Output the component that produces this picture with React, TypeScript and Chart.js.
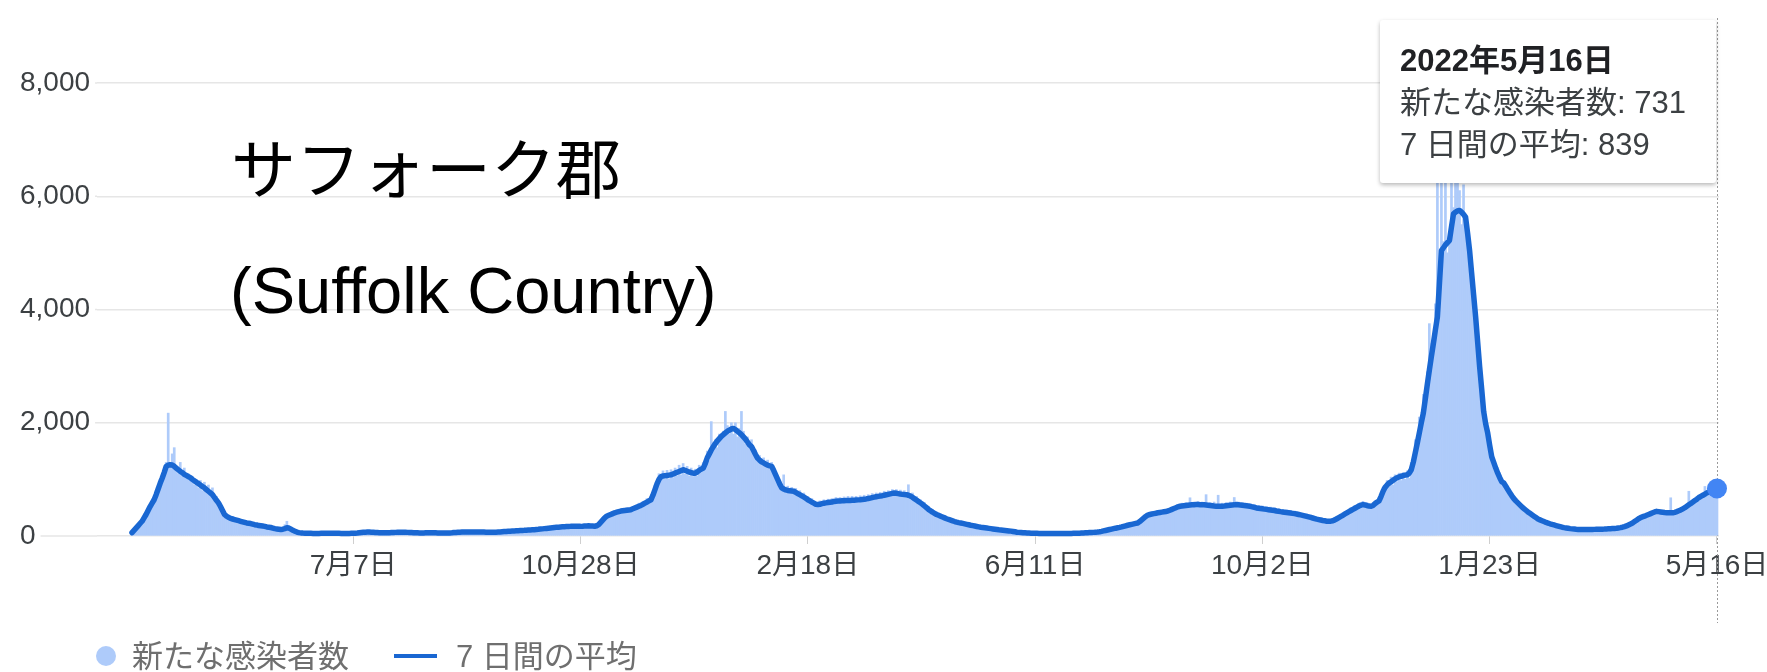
import React, { useEffect, useRef } from 'react';
import { Chart, registerables } from 'chart.js';

Chart.register(...registerables);

// ---------- data (day index 0 = 2020-03-19, last = 2022-05-16) ----------
const dailyCases: number[] = [
  40, 90, 150, 170, 240, 280, 300, 420, 430, 560,
  600, 620, 800, 790, 1000, 1010, 1150, 1300, 2170, 1250,
  1450, 1560, 1180, 1100, 1300, 1050, 1200, 1020, 1100, 1000,
  1050, 900, 1000, 850, 980, 800, 950, 780, 900, 720,
  850, 640, 700, 520, 560, 400, 420, 330, 360, 280,
  340, 260, 300, 240, 290, 230, 260, 200, 250, 200,
  230, 180, 210, 170, 200, 160, 190, 140, 170, 140,
  150, 110, 140, 100, 130, 110, 200, 260, 130, 100,
  90, 70, 75, 50, 60, 45, 55, 40, 55, 40,
  50, 38, 50, 40, 55, 42, 52, 45, 58, 42,
  55, 42, 52, 40, 50, 38, 50, 40, 52, 42,
  52, 45, 60, 50, 70, 55, 75, 65, 78, 60,
  72, 55, 66, 50, 62, 50, 60, 52, 64, 52,
  70, 56, 72, 58, 74, 58, 72, 56, 68, 52,
  64, 50, 62, 48, 60, 50, 62, 50, 64, 52,
  62, 50, 60, 48, 58, 46, 58, 46, 62, 50,
  68, 54, 74, 60, 78, 62, 80, 62, 78, 62,
  78, 62, 80, 64, 78, 62, 76, 58, 74, 58,
  76, 60, 78, 64, 84, 70, 90, 74, 96, 78,
  100, 82, 104, 86, 108, 90, 114, 96, 118, 100,
  124, 104, 130, 110, 140, 116, 148, 126, 156, 132,
  166, 138, 172, 144, 178, 150, 184, 150, 188, 152,
  190, 150, 188, 150, 192, 156, 196, 160, 194, 158,
  190, 170, 230, 260, 320, 300, 390, 340, 420, 370,
  450, 390, 470, 410, 490, 420, 500, 430, 510, 450,
  540, 480, 580, 500, 610, 540, 660, 570, 700, 680,
  900, 860, 1100, 980, 1150, 1000, 1160, 1010, 1170, 1030,
  1200, 1060, 1250, 1080, 1280, 1090, 1230, 1060, 1200, 1050,
  1180, 1060, 1250, 1120, 1300, 1220, 1500, 1330, 2020, 1650,
  1700, 1560, 1800, 1750, 1850, 2200, 1950, 1800, 2000, 1800,
  2000, 1750, 1900, 2200, 1850, 1620, 1750, 1550, 1700, 1450,
  1520, 1320, 1420, 1250, 1380, 1220, 1340, 1180, 1300, 1100,
  1080, 950, 980, 800, 1080, 780, 880, 760, 860, 740,
  840, 720, 800, 680, 760, 640, 700, 590, 660, 560,
  600, 520, 620, 540, 640, 550, 650, 560, 660, 580,
  680, 580, 680, 590, 690, 580, 700, 590, 700, 600,
  700, 600, 710, 610, 720, 620, 730, 640, 750, 650,
  760, 660, 770, 680, 790, 690, 800, 700, 820, 720,
  820, 710, 810, 700, 800, 700, 905, 680, 760, 620,
  700, 580, 640, 530, 590, 470, 520, 420, 470, 380,
  420, 340, 390, 310, 360, 290, 330, 260, 300, 240,
  270, 220, 250, 210, 240, 190, 220, 175, 200, 165,
  185, 150, 170, 140, 160, 130, 150, 120, 140, 110,
  130, 100, 118, 94, 110, 88, 100, 80, 90, 68,
  76, 58, 70, 54, 64, 50, 60, 46, 56, 44,
  54, 42, 52, 40, 52, 40, 50, 40, 50, 40,
  50, 40, 50, 40, 52, 40, 52, 42, 54, 44,
  56, 44, 60, 48, 64, 52, 68, 56, 72, 60,
  78, 68, 92, 80, 110, 94, 128, 110, 146, 124,
  162, 138, 176, 156, 198, 170, 218, 186, 232, 200,
  250, 230, 310, 280, 370, 340, 410, 360, 420, 380,
  440, 390, 450, 400, 460, 420, 490, 440, 520, 470,
  560, 490, 580, 500, 590, 510, 675, 520, 600, 530,
  610, 520, 600, 520, 730, 510, 590, 500, 600, 500,
  720, 490, 580, 500, 590, 505, 600, 510, 680, 520,
  600, 510, 590, 500, 580, 500, 570, 480, 560, 460,
  540, 450, 530, 440, 520, 430, 510, 420, 500, 410,
  480, 400, 470, 390, 460, 380, 450, 370, 440, 360,
  420, 340, 400, 330, 390, 310, 370, 290, 350, 270,
  320, 260, 300, 250, 290, 240, 290, 250, 320, 280,
  360, 320, 400, 360, 450, 400, 500, 440, 540, 470,
  580, 500, 610, 510, 590, 490, 560, 520, 620, 560,
  680, 600, 860, 800, 980, 860, 1040, 900, 1080, 960,
  1110, 980, 1120, 1000, 1150, 1020, 1300, 1200, 1700, 1500,
  2100, 1900, 2500, 2300, 2900, 3750, 3400, 3300, 4100, 6500,
  4800, 6800, 5200, 6900, 5000, 5300, 7200, 5800, 6400, 7000,
  6100, 5500, 6200, 5400, 5200, 4700, 4300, 3900, 3600, 3100,
  2700, 2300, 1950, 1850, 1700, 1450, 1300, 1250, 1120, 1050,
  980, 900, 880, 820, 770, 700, 670, 610, 590, 540,
  520, 480, 460, 420, 400, 370, 355, 320, 310, 280,
  270, 250, 245, 220, 218, 200, 196, 180, 178, 160,
  160, 142, 142, 130, 132, 120, 122, 112, 116, 106,
  116, 104, 116, 104, 118, 106, 118, 108, 120, 110,
  122, 112, 124, 114, 128, 118, 134, 124, 140, 130,
  152, 140, 170, 160, 200, 190, 240, 230, 290, 280,
  340, 310, 370, 330, 400, 360, 420, 390, 450, 400,
  440, 390, 420, 380, 420, 675, 425, 390, 450, 410,
  500, 440, 520, 480, 790, 520, 620, 580, 660, 620,
  730, 660, 875, 700, 800, 740, 830, 790, 731,
];

const avg7: number[] = [
  60, 100, 140, 180, 220, 260, 320, 380, 450, 520,
  580, 640, 730, 830, 930, 1020, 1120, 1230, 1250, 1260,
  1255, 1230, 1200, 1170, 1140, 1120, 1090, 1070, 1050, 1030,
  1000, 975, 950, 925, 900, 875, 850, 820, 790, 760,
  730, 680, 630, 585, 520, 450, 380, 350, 330, 310,
  300, 290, 280, 270, 260, 250, 240, 230, 225, 220,
  210, 200, 195, 185, 180, 175, 170, 160, 155, 150,
  140, 130, 125, 120, 115, 120, 130, 145, 140, 120,
  100, 85, 70, 60, 55, 52, 50, 50, 48, 47,
  46, 45, 45, 46, 47, 48, 48, 49, 50, 50,
  50, 49, 48, 47, 46, 45, 45, 45, 46, 47,
  48, 50, 53, 57, 61, 65, 68, 70, 70, 68,
  65, 62, 60, 58, 57, 56, 56, 57, 58, 60,
  62, 64, 65, 66, 66, 65, 65, 64, 62, 60,
  58, 57, 56, 55, 55, 55, 56, 57, 58, 58,
  57, 56, 55, 54, 53, 52, 52, 53, 55, 57,
  60, 63, 66, 68, 70, 71, 71, 70, 70, 70,
  70, 71, 72, 72, 71, 70, 68, 67, 66, 66,
  67, 68, 70, 72, 75, 78, 80, 83, 86, 88,
  90, 92, 94, 96, 98, 100, 103, 106, 108, 110,
  112, 115, 118, 122, 126, 130, 134, 138, 142, 146,
  150, 153, 156, 159, 162, 164, 166, 168, 170, 170,
  170, 170, 170, 170, 172, 175, 178, 180, 178, 175,
  172, 180, 200, 240, 280, 320, 350, 365, 380, 395,
  410, 420, 430, 440, 445, 450, 455, 460, 465, 480,
  495, 510, 525, 540, 560, 580, 600, 620, 640, 720,
  820, 920, 1000, 1050, 1060, 1065, 1070, 1075, 1080, 1095,
  1110, 1125, 1140, 1155, 1170, 1160, 1145, 1130, 1120, 1110,
  1110, 1130, 1160, 1180, 1200, 1280, 1380, 1450, 1520, 1580,
  1630, 1680, 1720, 1760, 1790, 1820, 1850, 1870, 1890, 1900,
  1880, 1850, 1820, 1790, 1750, 1710, 1660, 1610, 1580, 1510,
  1440, 1375, 1340, 1310, 1290, 1270, 1250, 1240, 1230, 1160,
  1080, 1000, 920, 850, 830, 815, 805, 800, 795, 790,
  770, 750, 730, 710, 690, 665, 640, 620, 600, 580,
  560, 555, 560, 570, 580, 585, 590, 595, 600, 610,
  615, 618, 620, 622, 624, 625, 626, 628, 630, 632,
  635, 638, 640, 645, 650, 655, 662, 670, 678, 686,
  694, 700, 705, 712, 720, 728, 736, 744, 752, 760,
  755, 748, 740, 735, 732, 730, 720, 705, 685, 660,
  635, 610, 585, 560, 530, 500, 470, 445, 420, 400,
  380, 365, 350, 335, 320, 305, 292, 280, 268, 256,
  245, 236, 230, 222, 214, 206, 198, 190, 183, 176,
  169, 162, 155, 150, 145, 140, 135, 130, 125, 120,
  115, 110, 106, 102, 98, 94, 90, 86, 80, 74,
  67, 64, 61, 58, 56, 54, 52, 50, 49, 48,
  47, 46, 46, 45, 45, 45, 44, 44, 44, 44,
  44, 44, 45, 45, 45, 45, 46, 46, 47, 48,
  49, 50, 52, 54, 56, 58, 60, 62, 64, 67,
  70, 75, 82, 90, 98, 106, 114, 122, 130, 138,
  145, 152, 160, 170, 180, 190, 198, 206, 214, 222,
  230, 255, 285, 315, 345, 370, 380, 388, 395, 402,
  410, 416, 422, 428, 434, 440, 455, 470, 485, 500,
  515, 525, 530, 534, 538, 542, 546, 550, 553, 555,
  555, 554, 552, 550, 546, 542, 538, 534, 530, 527,
  525, 525, 527, 530, 534, 538, 542, 546, 550, 555,
  552, 548, 544, 540, 535, 530, 522, 514, 505, 495,
  490, 485, 480, 475, 470, 465, 460, 455, 450, 442,
  436, 430, 425, 420, 415, 410, 405, 400, 395, 388,
  380, 372, 364, 355, 346, 337, 328, 318, 308, 298,
  290, 282, 274, 268, 262, 260, 262, 270, 285, 305,
  325, 345, 365, 390, 410, 430, 450, 470, 490, 510,
  530, 545, 555, 548, 538, 528, 525, 540, 570, 600,
  620, 700, 790, 860, 900, 935, 960, 985, 1010, 1030,
  1045, 1055, 1065, 1075, 1080, 1110, 1170, 1300, 1470, 1640,
  1820, 2000, 2170, 2420, 2680, 2930, 3170, 3400, 3640, 3870,
  4450, 5040, 5090, 5140, 5180, 5220, 5460, 5690, 5720, 5740,
  5750, 5720, 5680, 5630, 5350, 5040, 4650, 4260, 3870, 3430,
  2990, 2600, 2200, 1980, 1820, 1600, 1400, 1300, 1200, 1110,
  1030, 960, 935, 880, 820, 765, 710, 660, 620, 585,
  550, 515, 485, 455, 425, 400, 375, 350, 325, 300,
  285, 270, 255, 240, 228, 216, 205, 195, 185, 175,
  165, 155, 148, 142, 136, 130, 126, 122, 118, 115,
  115, 114, 114, 114, 115, 115, 116, 117, 118, 119,
  120, 121, 122, 124, 126, 128, 131, 134, 138, 143,
  148, 155, 165, 178, 195, 212, 230, 255, 280, 305,
  325, 340, 350, 365, 380, 395, 410, 425, 435, 430,
  425, 420, 415, 412, 410, 410, 410, 418, 430, 445,
  460, 480, 500, 525, 550, 575, 600, 625, 650, 680,
  700, 720, 740, 760, 780, 800, 815, 828, 839,
];

const tickDays: number[] = [110, 223, 336, 449, 562, 675, 788];
const tickLabels: string[] = ['7月7日', '10月28日', '2月18日', '6月11日', '10月2日', '1月23日', '5月16日'];
const yTickStep = 2000;
const yMax = 8000;
const seriesNames: string[] = ['新たな感染者数', '7 日間の平均'];
const tooltipTitle = '2022年5月16日';
const titleLines: string[] = ['サフォーク郡', '(Suffolk Country)'];

// ---------- styles ----------
const FAMILY = '"Liberation Sans", "Noto Sans CJK JP", Arial, sans-serif';
const CJK = '"Noto Sans CJK JP", "Liberation Sans", sans-serif';
const BAR = '#aecbfa';
const LINE = '#1967d2';
const POINT = '#4285f4';
const GRID = '#e6e6e6';
const TEXT = '#3c4043';

const overlayPlugin = {
  id: 'overlay',
  beforeDatasetsDraw(chart: any) {
    const { ctx, chartArea, scales } = chart;
    const ys = scales.y;
    ctx.save();
    ctx.font = `28px ${FAMILY}`;
    ctx.strokeStyle = GRID;
    ctx.lineWidth = 1.5;
    ys.ticks.forEach((t: any) => {
      const label = String(t.label);
      const w = ctx.measureText(label).width;
      const py = ys.getPixelForValue(t.value);
      const x0 = ys.left + w + 5;
      if (x0 < chartArea.left) {
        ctx.beginPath();
        ctx.moveTo(x0, py);
        ctx.lineTo(chartArea.left, py);
        ctx.stroke();
      }
    });
    const xs = scales.x;
    const px = Math.round(xs.getPixelForValue(avg7.length - 1)) + 0.5;
    ctx.strokeStyle = '#9a9a9a';
    ctx.lineWidth = 1;
    ctx.setLineDash([2, 2]);
    ctx.beginPath();
    ctx.moveTo(px, 18);
    ctx.lineTo(px, 623);
    ctx.stroke();
    ctx.restore();
  },
};

export default function App() {
  const ref = useRef<HTMLCanvasElement>(null);

  useEffect(() => {
    document.body.style.margin = '0';
    document.body.style.overflow = 'hidden';
    const last = avg7.length - 1;
    const chart = new Chart(ref.current as HTMLCanvasElement, {
      type: 'bar',
      data: {
        datasets: [
          {
            type: 'line',
            label: seriesNames[1],
            data: avg7.map((v, i) => ({ x: i, y: v })),
            borderColor: LINE,
            borderWidth: 5.5,
            tension: 0,
            borderJoinStyle: 'round',
            borderCapStyle: 'round',
            pointRadius: (c: any) => (c.dataIndex === last ? 10 : 0),
            pointHoverRadius: 0,
            pointBackgroundColor: POINT,
            pointBorderWidth: 0,
            order: 1,
            clip: false,
          } as any,
          {
            type: 'bar',
            label: seriesNames[0],
            data: dailyCases.map((v, i) => ({ x: i, y: v })),
            backgroundColor: BAR,
            borderWidth: 0,
            barPercentage: 1,
            categoryPercentage: 1,
            order: 2,
          } as any,
        ],
      },
      options: {
        animation: false,
        responsive: false,
        maintainAspectRatio: false,
        events: [],
        layout: { padding: { left: 20, right: 48, top: 83, bottom: 86 } },
        plugins: {
          legend: { display: false },
          tooltip: { enabled: false },
        },
        scales: {
          x: {
            type: 'linear',
            bounds: 'data',
            offset: false,
            min: -17.4,
            max: 789,
            grid: {
              offset: false,
              drawOnChartArea: false,
              drawTicks: true,
              tickLength: 8,
              color: '#cfcfcf',
            },
            border: { display: false },
            ticks: {
              autoSkip: false,
              maxRotation: 0,
              minRotation: 0,
              padding: 5,
              color: TEXT,
              font: { family: FAMILY, size: 28 },
              callback: (v: any) => {
                const k = tickDays.indexOf(Number(v));
                return k >= 0 ? tickLabels[k] : '';
              },
            },
            afterBuildTicks: (s: any) => {
              s.ticks = tickDays.map((d) => ({ value: d }));
            },
            afterFit: (s: any) => {
              s.height = 50;
              s.paddingLeft = 0;
              s.paddingRight = 0;
            },
          } as any,
          y: {
            type: 'linear',
            min: 0,
            max: yMax,
            grid: { color: GRID, lineWidth: 1.5, drawTicks: false },
            border: { display: false },
            ticks: {
              stepSize: yTickStep,
              crossAlign: 'far',
              padding: 0,
              color: TEXT,
              font: { family: FAMILY, size: 28 },
              callback: (v: any) => Number(v).toLocaleString('en-US'),
            },
            afterFit: (s: any) => {
              s.width = 77;
            },
          } as any,
        },
      },
      plugins: [overlayPlugin],
    } as any);
    return () => chart.destroy();
  }, []);

  const last = avg7.length - 1;

  return (
    <div style={{ position: 'relative', width: 1767, height: 672, background: '#fff', overflow: 'hidden' }}>
      <canvas ref={ref} width={1767} height={672} style={{ width: 1767, height: 672, display: 'block' }} />

      <div style={{ position: 'absolute', left: 231, top: 133, fontFamily: CJK, fontSize: 65, lineHeight: '65px', color: '#000', whiteSpace: 'nowrap' }}>
        {titleLines[0]}
      </div>
      <div style={{ position: 'absolute', left: 230, top: 258, fontFamily: FAMILY, fontSize: 65, lineHeight: '65px', color: '#000', whiteSpace: 'nowrap' }}>
        {titleLines[1]}
      </div>

      <div
        style={{
          position: 'absolute', left: 1380, top: 20, width: 336, height: 163, boxSizing: 'border-box',
          background: '#fff', boxShadow: '0 2px 4px rgba(0,0,0,0.28)', borderRadius: 3,
          padding: '20px 0 0 20px', fontFamily: FAMILY, fontSize: 31, lineHeight: '42px', color: TEXT, whiteSpace: 'nowrap',
        }}
      >
        <div style={{ fontWeight: 'bold', color: '#202124' }}>{tooltipTitle}</div>
        <div>{seriesNames[0]}: {dailyCases[last]}</div>
        <div>{seriesNames[1]}: {avg7[last]}</div>
      </div>

      <div style={{ position: 'absolute', left: 96, top: 646, width: 20, height: 20, borderRadius: '50%', background: BAR }} />
      <div style={{ position: 'absolute', left: 132, top: 641, fontFamily: FAMILY, fontSize: 31, lineHeight: '31px', color: '#6f6f6f', whiteSpace: 'nowrap' }}>
        {seriesNames[0]}
      </div>
      <div style={{ position: 'absolute', left: 394, top: 654, width: 43, height: 4, background: LINE }} />
      <div style={{ position: 'absolute', left: 456, top: 641, fontFamily: FAMILY, fontSize: 31, lineHeight: '31px', color: '#6f6f6f', whiteSpace: 'nowrap' }}>
        {seriesNames[1]}
      </div>
    </div>
  );
}
